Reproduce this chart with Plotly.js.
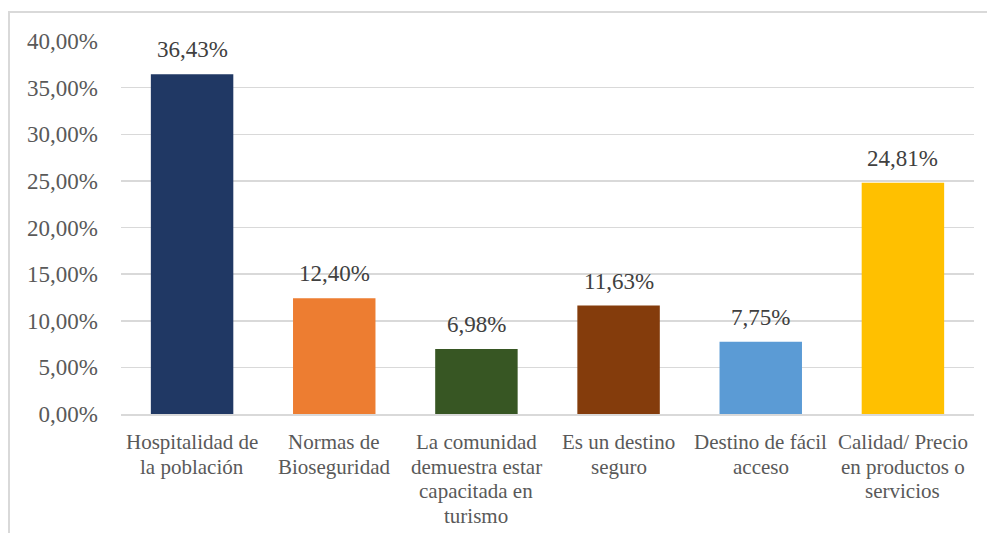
<!DOCTYPE html>
<html>
<head>
<meta charset="utf-8">
<script src="https://cdn.plot.ly/plotly-3.0.1.min.js"></script>
<style>
html,body{margin:0;padding:0;background:#fff;overflow:hidden;}
#frame{position:absolute;left:8px;top:11px;width:1200px;height:800px;border-left:2px solid #d9d9d9;border-top:2px solid #d9d9d9;}
#chart{position:absolute;left:0;top:0;width:987px;height:533px;}
</style>
</head>
<body>
<div id="frame"></div>
<div id="chart"></div>
<script>
const categories = [
  "Hospitalidad de<br>la población",
  "Normas de<br>Bioseguridad",
  "La comunidad<br>demuestra estar<br>capacitada en<br>turismo",
  "Es un destino<br>seguro",
  "Destino de fácil<br>acceso",
  "Calidad/ Precio<br>en productos o<br>servicios"
];
const values = [36.43, 12.40, 6.98, 11.63, 7.75, 24.81];
const barColors = ["#203864", "#ED7D31", "#375623", "#843C0C", "#5B9BD5", "#FFC000"];
const yTicks = [0, 5, 10, 15, 20, 25, 30, 35, 40];

const FONT = "'Liberation Serif', 'Times New Roman', Times, serif";
const fmt = v => v.toFixed(2).replace('.', ',') + '%';

const trace = {
  type: 'bar',
  x: categories,
  y: values,
  marker: {color: barColors},
  hoverinfo: 'none'
};

// value labels above bars
const annotations = values.map((v, i) => ({
  x: categories[i], y: v, xref: 'x', yref: 'y',
  text: fmt(v), showarrow: false, yanchor: 'bottom', yshift: 10,
  font: {family: FONT, size: 23, color: '#404040'}
}));

// category labels, one annotation per line for tighter line spacing
categories.forEach(cat => {
  cat.split('<br>').forEach((line, j) => {
    annotations.push({
      x: cat, y: 0, xref: 'x', yref: 'y',
      text: line, showarrow: false, yanchor: 'middle',
      yshift: -(28 + 24.6 * j),
      font: {family: FONT, size: 21, color: '#595959'}
    });
  });
});

const layout = {
  width: 987, height: 533,
  margin: {l: 121, r: 13, t: 41, b: 119},
  paper_bgcolor: 'rgba(0,0,0,0)',
  plot_bgcolor: 'rgba(0,0,0,0)',
  bargap: 0.42,
  showlegend: false,
  font: {family: FONT, size: 23, color: '#595959'},
  xaxis: {
    type: 'category', showgrid: false, zeroline: false,
    showline: true, linecolor: '#d9d9d9', linewidth: 2,
    ticks: '', showticklabels: false, automargin: false
  },
  yaxis: {
    range: [0, 40], tickvals: yTicks, ticktext: yTicks.map(fmt),
    showgrid: true, gridcolor: '#d9d9d9', gridwidth: 1.5,
    zeroline: false, showline: false, ticks: '', ticklabelstandoff: 22,
    automargin: false,
    tickfont: {family: FONT, size: 23, color: '#595959'}
  },
  annotations: annotations
};

Plotly.newPlot('chart', [trace], layout, {displayModeBar: false, staticPlot: true});
</script>
</body>
</html>
